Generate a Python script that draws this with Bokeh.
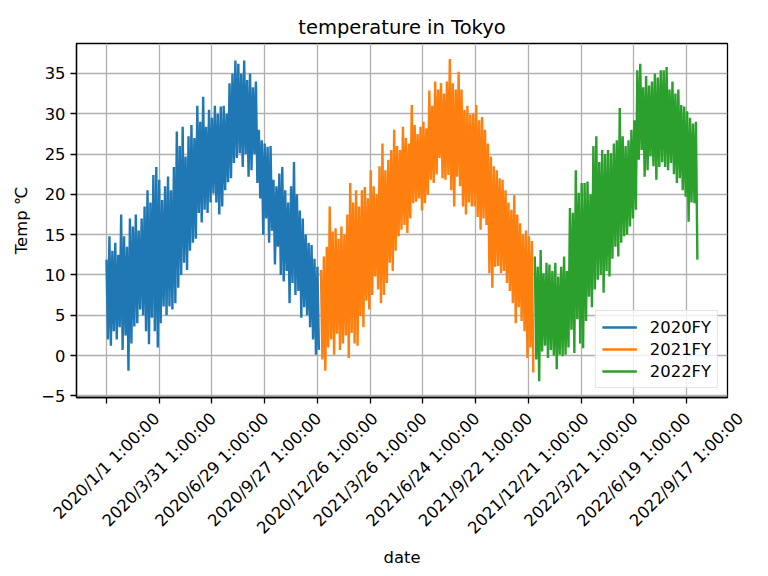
import math
from datetime import date

from bokeh.plotting import figure
from bokeh.models import FixedTicker, Range1d
from bokeh.core.properties import value
from bokeh.embed import file_html
from bokeh.resources import INLINE

# ---------------- data ----------------
title_text = "temperature in Tokyo"
x_label = "date"
y_label = "Temp ℃"

series_names = ["2020FY", "2021FY", "2022FY"]
series_colors = ["#1f77b4", "#ff7f0e", "#2ca02c"]
series_start = [date(2020, 1, 1), date(2021, 1, 1), date(2022, 1, 1)]
BLOCK_DAYS = 5  # each pair below = highest / lowest reading of one 5-day block

hi_2020 = [11.9, 14.8, 13.0, 14.0, 12.5, 17.5, 14.8, 13.5, 17.0, 16.0,
           17.5, 15.5, 17.0, 18.5, 20.5, 19.0, 22.4, 23.4, 21.8, 19.3,
           21.0, 22.2, 20.5, 23.4, 27.8, 26.0, 28.4, 24.7, 27.2, 28.6,
           27.0, 31.0, 29.0, 32.1, 28.4, 30.5, 29.5, 31.0, 30.0, 30.9,
           31.0, 30.0, 33.8, 35.0, 36.6, 36.2, 35.0, 36.6, 34.2, 35.0,
           33.3, 34.0, 28.0, 26.7, 26.3, 25.9, 26.0, 21.8, 21.0, 22.6,
           23.4, 20.5, 19.0, 21.0, 24.0, 20.0, 18.0, 17.0, 15.0, 14.0,
           13.7, 12.0, 11.0]
lo_2020 = [2.0, 1.2, 3.0, 2.0, 3.5, 0.7, 2.5, -1.9, 1.5, 3.6,
           4.0, 5.7, 5.0, 3.0, 1.4, 4.7, 3.0, 1.0, 4.0, 6.1,
           5.0, 6.1, 5.7, 6.5, 8.4, 10.0, 11.5, 10.6, 13.0, 14.0,
           14.5, 17.7, 16.5, 18.1, 17.7, 19.0, 20.1, 19.0, 17.5, 18.5,
           20.5, 21.5, 22.0, 23.9, 24.5, 25.1, 23.4, 25.0, 22.2, 23.0,
           25.0, 21.4, 19.5, 15.0, 17.0, 14.0, 15.5, 11.3, 13.5, 10.0,
           9.2, 10.5, 6.5, 9.0, 7.5, 8.0, 4.7, 6.0, 5.0, 3.5,
           2.0, 0.1, 0.7]

hi_2021 = [10.6, 12.3, 13.5, 18.5, 15.4, 15.8, 14.5, 16.0, 15.0, 17.5,
           21.4, 19.0, 20.5, 18.5, 20.5, 20.9, 19.5, 23.0, 21.0, 20.0,
           23.5, 26.3, 23.0, 24.3, 25.5, 28.0, 26.0, 25.5, 28.4, 27.0,
           26.3, 31.1, 28.6, 27.5, 28.4, 29.0, 28.2, 32.9, 31.0, 34.0,
           33.0, 33.8, 32.5, 34.0, 36.8, 33.8, 33.0, 35.2, 33.0, 30.5,
           31.0, 29.9, 30.0, 31.1, 29.2, 29.6, 28.0, 26.3, 24.7, 23.5,
           23.0, 22.0, 21.8, 20.5, 19.0, 18.1, 19.9, 17.5, 16.4, 15.0,
           15.5, 14.8, 14.2]
lo_2021 = [-0.5, -1.9, 1.0, 2.0, 0.1, 2.7, 0.7, 1.5, 2.5, -0.3,
           2.8, 1.5, 1.2, 4.9, 3.5, 6.8, 5.7, 7.5, 9.8, 8.2,
           6.5, 7.5, 9.0, 11.5, 10.5, 13.0, 14.8, 15.6, 16.2, 15.2,
           17.0, 18.9, 19.1, 19.5, 18.0, 18.9, 20.0, 21.8, 21.4, 22.5,
           24.5, 22.0, 21.8, 22.4, 20.5, 18.5, 22.2, 21.0, 18.5, 17.5,
           19.0, 18.5, 18.5, 17.2, 15.6, 17.0, 16.2, 10.2, 8.4, 11.0,
           11.1, 10.2, 10.5, 9.0, 8.0, 6.5, 4.0, 6.0, 4.3, 3.0,
           -0.3, 1.0, -2.1]

hi_2022 = [12.3, 11.0, 13.1, 10.2, 11.5, 11.3, 10.5, 11.5, 9.8, 11.0,
           12.3, 10.5, 18.3, 17.7, 23.0, 20.2, 21.4, 21.4, 21.6, 20.0,
           26.0, 27.2, 24.0, 25.5, 25.0, 25.5, 25.1, 26.3, 26.7, 30.7,
           27.2, 26.0, 26.7, 28.0, 29.2, 35.4, 36.2, 33.3, 34.7, 33.5,
           34.0, 35.0, 34.5, 35.4, 35.4, 35.8, 33.0, 34.0, 32.5, 33.0,
           31.1, 30.9, 30.3, 29.5, 28.8, 29.0]
lo_2022 = [-0.5, -3.2, 0.5, 1.2, -0.3, 0.7, 0.0, -1.7, 0.1, -0.1,
           0.1, 1.0, 3.2, 0.3, 4.5, 1.5, 0.9, 4.3, 7.3, 6.0,
           8.2, 9.4, 10.0, 7.8, 10.5, 9.8, 12.0, 13.5, 12.3, 14.0,
           14.8, 15.0, 16.0, 17.0, 18.1, 24.3, 25.5, 22.2, 23.0, 24.7,
           23.5, 21.8, 23.4, 24.0, 23.4, 23.0, 23.9, 22.5, 21.4, 22.0,
           20.5, 19.7, 16.6, 19.0, 18.9, 11.9]

series_hi = [hi_2020, hi_2021, hi_2022]
series_lo = [lo_2020, lo_2021, lo_2022]

tick_days = [0, 90, 180, 270, 360, 450, 540, 630, 720, 810, 900, 990]
tick_labels = ["2020/1/1 1:00:00", "2020/3/31 1:00:00", "2020/6/29 1:00:00",
               "2020/9/27 1:00:00", "2020/12/26 1:00:00", "2021/3/26 1:00:00",
               "2021/6/24 1:00:00", "2021/9/22 1:00:00", "2021/12/21 1:00:00",
               "2022/3/21 1:00:00", "2022/6/19 1:00:00", "2022/9/17 1:00:00"]
y_ticks = [-5, 0, 5, 10, 15, 20, 25, 30, 35]

# ---------------- layout constants ----------------
FONT = "DejaVu Sans"
FS = 16.4
W, H = 768, 576
F_LEFT, F_RIGHT, F_TOP, F_BOTTOM = 76, 727, 43, 397
TOP_H = 405                     # height of the chart part; the rest holds the rotated labels
X0, X1 = -51.2, 1059.9
Y0, Y1 = -5.21, 38.72

p = figure(width=W, height=TOP_H, output_backend="svg", toolbar_location=None,
           x_range=Range1d(X0, X1), y_range=Range1d(Y0, Y1),
           min_border_left=F_LEFT, min_border_right=W - F_RIGHT,
           min_border_top=F_TOP, min_border_bottom=TOP_H - F_BOTTOM,
           title=title_text)
p.background_fill_color = "white"
p.border_fill_color = "white"
p.outline_line_color = "black"
p.outline_line_width = 1.3

p.title.align = "center"
p.title.text_font = FONT
p.title.text_font_size = "19.5px"
p.title.text_font_style = "normal"
p.title.text_color = "black"

base = date(2020, 1, 1)
for name, color, start, his, los in zip(series_names, series_colors, series_start,
                                        series_hi, series_lo):
    off = (start - base).days
    xs, ys = [], []
    for i, (h, l) in enumerate(zip(his, los)):
        xs += [off + BLOCK_DAYS * i, off + BLOCK_DAYS * i + BLOCK_DAYS / 2]
        ys += [h, l]
    p.line(xs, ys, line_color=color, line_width=2.4, legend_label=name)

# axes
p.xaxis.ticker = FixedTicker(ticks=tick_days)
p.yaxis.ticker = FixedTicker(ticks=y_ticks)
p.yaxis.major_label_overrides = {-5: "−5"}
for ax in (p.xaxis, p.yaxis):
    ax.axis_line_color = "black"
    ax.axis_line_width = 1.3
    ax.major_tick_line_color = "black"
    ax.major_tick_line_width = 1.3
    ax.major_tick_out = 6
    ax.major_tick_in = 0
    ax.minor_tick_line_color = None
    ax.major_label_text_font = FONT
    ax.major_label_text_font_size = f"{FS}px"
    ax.major_label_text_color = "black"
    ax.axis_label_text_font = FONT
    ax.axis_label_text_font_size = f"{FS}px"
    ax.axis_label_text_font_style = "normal"
    ax.axis_label_text_color = "black"
# the x tick labels are drawn rotated in the strip below, so the axis' own are not painted
p.xaxis.major_label_text_font_size = "0px"
p.xaxis.major_label_text_color = None
p.xaxis.major_label_standoff = 0
p.yaxis.major_label_standoff = 5
p.yaxis.axis_label = y_label
p.yaxis.axis_label_standoff = 7

p.grid.grid_line_color = "#b0b0b0"
p.grid.grid_line_width = 1.3

# legend
lg = p.legend[0]
lg.location = "bottom_right"
lg.margin = 9
lg.padding = 6
lg.spacing = 2
lg.glyph_width = 35
lg.glyph_height = 20
lg.label_height = 20
lg.label_standoff = 13
lg.label_text_font = FONT
lg.label_text_font_size = f"{FS}px"
lg.label_text_color = "black"
lg.border_line_color = "#cccccc"
lg.border_line_width = 1.3
lg.background_fill_color = "white"
lg.background_fill_alpha = 0.8

# ---------------- lower strip: rotated tick labels + x axis title ----------------
scale = (X1 - X0) / (F_RIGHT - F_LEFT)          # days per pixel
BOT_H = H - TOP_H
q = figure(width=W, height=BOT_H, output_backend="svg", toolbar_location=None,
           x_range=Range1d(X0 - F_LEFT * scale, X1 + (W - F_RIGHT) * scale),
           y_range=Range1d(0, BOT_H), x_axis_type=None, y_axis_type=None,
           min_border=0, min_border_left=0, min_border_right=0,
           min_border_top=0, min_border_bottom=0)
q.background_fill_color = "white"
q.border_fill_color = "white"
q.outline_line_color = None
q.xgrid.visible = False
q.ygrid.visible = False

EM = {"/": 0.337, ":": 0.337, " ": 0.318}


def text_len(s):
    return sum(EM.get(c, 0.636) for c in s) * FS


def py_to_q(py):
    return H - py


label_y = []
for t in tick_labels:
    L = text_len(t)
    hh = 1.164 * FS
    label_y.append(py_to_q(408.5 + 0.7071 * (L + hh) / 2))

q.text(x=tick_days, y=label_y, text=tick_labels, angle=math.pi / 4,
       text_align="center", text_baseline="middle",
       text_font=value(FONT), text_font_size=value(f"{FS}px"), text_color="black")
q.text(x=[(X0 + X1) / 2], y=[py_to_q(556.5)], text=[x_label],
       text_align="center", text_baseline="alphabetic",
       text_font=value(FONT), text_font_size=value(f"{FS}px"), text_color="black")

# two independent roots, stacked (no frame alignment between them)
open("out.html", "w").write(file_html([p, q], INLINE))
